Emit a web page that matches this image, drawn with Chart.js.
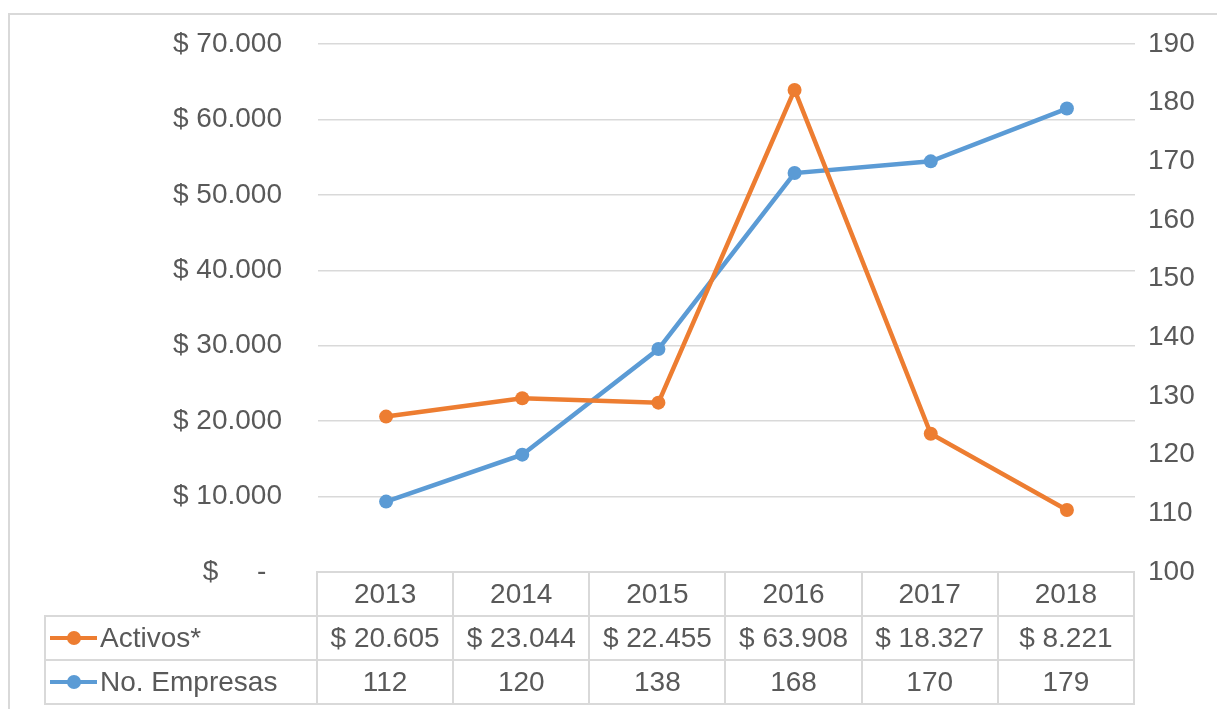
<!DOCTYPE html>
<html>
<head>
<meta charset="utf-8">
<script src="https://cdn.jsdelivr.net/npm/chart.js@4/dist/chart.umd.min.js"></script>
<style>
  html, body { margin: 0; padding: 0; background: #fff; overflow: hidden; }
  #wrap { position: relative; width: 1217px; height: 709px; }
  #marco { position: absolute; left: 8px; top: 13px; width: 1300px; height: 800px;
           border: 2px solid #d9d9d9; box-sizing: border-box; }
  #tabla { position: absolute; border-collapse: collapse; table-layout: fixed;
           font-family: "Liberation Sans", sans-serif; font-size: 28px; color: #595959; }
  #tabla td { border: 2px solid #d9d9d9; height: 42px; padding: 0; text-align: center;
              white-space: nowrap; overflow: hidden; }
  #tabla td.vacia { border: none; }
  #tabla td.serie { text-align: left; padding-left: 4px; }
  .clave { display: inline-block; position: relative; width: 47px; height: 4px;
           vertical-align: middle; margin-right: 3px; top: -2px; }
  .clave i { position: absolute; left: 17px; top: -5px; width: 14px; height: 14px; border-radius: 50%; }
</style>
</head>
<body>
<div id="wrap">
  <div id="marco"></div>
  <canvas id="grafico"></canvas>
  <table id="tabla"></table>
</div>
<script>
const years = ["2013", "2014", "2015", "2016", "2017", "2018"];
const activos = [20605, 23044, 22455, 63908, 18327, 8221];
const empresas = [112, 120, 138, 168, 170, 179];
const seriesNames = ["Activos*", "No. Empresas"];
const colorActivos = "#ED7D31";
const colorEmpresas = "#5B9BD5";
const textColor = "#595959";
const gridColor = "#d9d9d9";
const fontFamily = "'Liberation Sans', sans-serif";

function miles(n) {
  return n.toString().replace(/\B(?=(\d{3})+(?!\d))/g, ".");
}

// tabla de datos bajo el grafico (como en Excel)
function armarTabla() {
  const t = document.getElementById("tabla");
  let html = "<tr><td class='vacia'></td>";
  years.forEach(y => { html += "<td>" + y + "</td>"; });
  html += "</tr><tr><td class='serie'><span class='clave' style='background:" + colorActivos +
          "'><i style='background:" + colorActivos + "'></i></span>" + seriesNames[0] + "</td>";
  activos.forEach(v => { html += "<td>$ " + miles(v) + "</td>"; });
  html += "</tr><tr><td class='serie'><span class='clave' style='background:" + colorEmpresas +
          "'><i style='background:" + colorEmpresas + "'></i></span>" + seriesNames[1] + "</td>";
  empresas.forEach(v => { html += "<td>" + v + "</td>"; });
  html += "</tr>";
  t.innerHTML = html;
}
armarTabla();

const tablaPlugin = {
  id: "tablaDatos",
  afterLayout(chart) {
    const a = chart.chartArea;
    const t = document.getElementById("tabla");
    const colW = (a.right - a.left) / years.length;
    const firstW = a.left - 45;
    t.style.left = "44px";
    t.style.top = (a.bottom - 1) + "px";
    const cols = t.rows[0].cells;
    cols[0].style.width = (firstW - 2) + "px";
    for (let i = 1; i < cols.length; i++) cols[i].style.width = (colW - 2) + "px";
  }
};

const ctx = document.getElementById("grafico").getContext("2d");
new Chart(ctx, {
  type: "line",
  data: {
    labels: years,
    datasets: [{
      label: seriesNames[0],
      data: activos,
      yAxisID: "y",
      borderColor: colorActivos,
      backgroundColor: colorActivos,
      borderWidth: 4.5,
      pointRadius: 7,
      pointBorderWidth: 0,
      tension: 0
    }, {
      label: seriesNames[1],
      data: empresas,
      yAxisID: "y1",
      borderColor: colorEmpresas,
      backgroundColor: colorEmpresas,
      borderWidth: 4.5,
      pointRadius: 7,
      pointBorderWidth: 0,
      tension: 0
    }]
  },
  options: {
    responsive: true,
    maintainAspectRatio: false,
    animation: false,
    layout: { padding: { top: 44, bottom: 137, left: 0, right: 0 } },
    plugins: {
      legend: { display: false },
      tooltip: { enabled: false }
    },
    scales: {
      x: {
        display: false,
        offset: true
      },
      y: {
        position: "left",
        min: 0,
        max: 70000,
        border: { display: false },
        // tick marks invisibles: solo separan las etiquetas del area
        grid: { color: gridColor, lineWidth: 1.5, drawTicks: true, tickLength: 36, tickColor: "rgba(0,0,0,0)" },
        ticks: {
          stepSize: 10000,
          padding: 0,
          color: textColor,
          font: { family: fontFamily, size: 28 },
          callback: v => v === 0 ? "$     -  " : "$ " + miles(v)
        },
        afterFit(scale) { scale.width = 318; }
      },
      y1: {
        position: "right",
        min: 100,
        max: 190,
        border: { display: false },
        grid: { display: false, drawTicks: false },
        ticks: {
          stepSize: 10,
          padding: 13,
          color: textColor,
          font: { family: fontFamily, size: 28 }
        },
        afterFit(scale) { scale.width = 82; }
      }
    }
  },
  plugins: [tablaPlugin]
});
</script>
</body>
</html>
